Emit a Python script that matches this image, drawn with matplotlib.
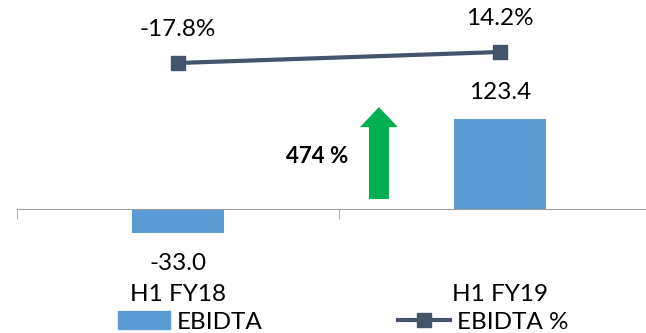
import numpy as np
import matplotlib.pyplot as plt
from matplotlib.patches import FancyArrow, Patch
from matplotlib.lines import Line2D

plt.rcParams['font.family'] = ['Lato', 'DejaVu Sans']

periods = ['H1 FY18', 'H1 FY19']
ebidta = [-33.0, 123.4]
ebidta_pct = [-17.8, 14.2]
growth = '474 %'

bar_col = '#5B9BD5'
line_col = '#44546A'
fs = 17.5
x = np.arange(len(periods))

fig = plt.figure(figsize=(6.46, 3.33), dpi=100)
ax = fig.add_axes([17/646, 0.219, 644/646, 0.781])
ax.bar(x, ebidta, width=0.283, color=bar_col, zorder=2)
ax.set_xlim(-0.5, 1.5)
ax.set_ylim(-70, 286.7)

for s in ['top', 'right', 'left']:
    ax.spines[s].set_visible(False)
ax.spines['bottom'].set_position(('data', 0))
ax.spines['bottom'].set_color('#A0A0A0')
ax.set_yticks([])
ax.set_xticks(x, periods, fontsize=fs)
ax.tick_params(axis='x', which='major', length=0, pad=54)
ax.set_xticks([-0.5, 0.5, 1.5], minor=True)
ax.tick_params(axis='x', which='minor', length=7, color='#A0A0A0', direction='out')

for xi, v in zip(x, ebidta):
    off = 19 if v >= 0 else -22
    ax.annotate(f'{v:.1f}', (xi, v), xytext=(0, off), textcoords='offset points',
                ha='center', va='center', fontsize=fs)

# EBIDTA margin on its own scale
ax2 = ax.twinx()
ax2.set_ylim(-590.5, 165.3)
ax2.plot(x, ebidta_pct, color=line_col, lw=3, marker='s', ms=10, zorder=3)
ax2.axis('off')
for xi, v in zip(x, ebidta_pct):
    ax2.annotate(f'{v:.1f}%', (xi, v), xytext=(0, 24), textcoords='offset points',
                 ha='center', va='center', fontsize=fs)

# growth arrow
ax.add_patch(FancyArrow(0.624, 13.7, 0, 126, width=0.062, head_width=0.118,
                        head_length=27.4, length_includes_head=True,
                        color='#00B050', lw=0, zorder=3))
ax.text(0.528, 72, growth, ha='right', va='center', fontsize=16, fontweight='bold')

handles = [Patch(color=bar_col),
           Line2D([], [], color=line_col, lw=3, marker='s', ms=10)]
fig.legend(handles, ['EBIDTA', 'EBIDTA %'], loc='center', bbox_to_anchor=(343/646, 11/333),
           ncol=2, frameon=False, fontsize=fs, handlelength=2.15, handletextpad=0.25,
           columnspacing=5.6, borderpad=0)

fig.savefig('out.png', dpi=100)
